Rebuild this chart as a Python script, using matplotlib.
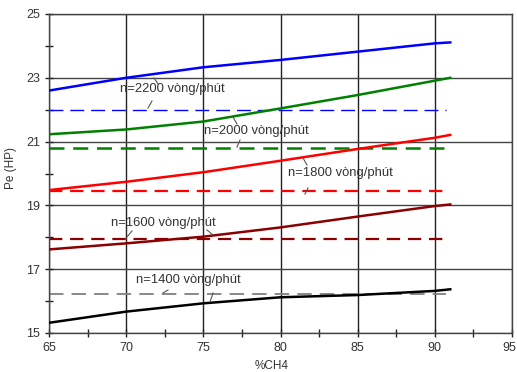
import matplotlib
matplotlib.use("Agg")
import matplotlib.pyplot as plt
import matplotlib.transforms as mtransforms
import numpy as np

plt.rcParams['font.family'] = ['Liberation Sans', 'DejaVu Sans']

x_ch4 = [65, 70, 75, 80, 85, 90, 91]
pe_2200 = [22.60, 23.00, 23.33, 23.56, 23.82, 24.08, 24.11]
pe_2000 = [21.23, 21.38, 21.63, 22.04, 22.46, 22.91, 23.00]
pe_1800 = [19.48, 19.74, 20.04, 20.40, 20.77, 21.12, 21.21]
pe_1600 = [17.62, 17.81, 18.02, 18.31, 18.65, 18.98, 19.03]
pe_1400 = [15.32, 15.67, 15.93, 16.12, 16.19, 16.32, 16.37]

ref_x = [65, 90.7]
ref_2200 = 22.0
ref_2000 = 20.8
ref_1800 = 19.44
ref_1600 = 17.95
ref_1400 = 16.22

labels = ["n=2200 vòng/phút", "n=2000 vòng/phút", "n=1800 vòng/phút",
          "n=1600 vòng/phút", "n=1400 vòng/phút"]

fig = plt.figure(figsize=(5.17, 3.72), dpi=100)
ax = fig.add_axes([49/517, 1-333/372, (512-49)/517, (333-14)/372])

ax.set_xlim(65, 95)
ax.set_ylim(15, 25)
ax.set_xticks([65, 70, 75, 80, 85, 90, 95])
ax.set_xticks([67.5, 72.5, 77.5, 82.5, 87.5, 92.5], minor=True)
ax.set_yticks([15, 17, 19, 21, 23, 25])
ax.set_yticks([16, 18, 20, 22, 24], minor=True)
ax.grid(True, which='major', axis='x', color='#222222', lw=1.0)
ax.grid(True, which='major', axis='y', color='#444444', lw=1.0)
ax.set_axisbelow(True)
ax.tick_params(which='both', direction='inout', length=6, width=1, colors='#222222',
               labelsize=9, labelcolor='#333333')
for s in ax.spines.values():
    s.set_color('#444444')
    s.set_linewidth(1.0)

solid = [(pe_2200, 'blue'), (pe_2000, 'green'), (pe_1800, 'red'),
         (pe_1600, '#8b0000'), (pe_1400, 'black')]
for ys, c in solid:
    ax.plot(x_ch4, ys, color=c, lw=1.8, zorder=3)

dashed = [(ref_2200, 'blue', 1.0, (10, 5)), (ref_2000, 'green', 1.8, (6, 3.5)),
          (ref_1800, 'red', 1.6, (6, 3.5)), (ref_1600, '#8b0000', 1.6, (6, 3.5)),
          (ref_1400, 'gray', 1.3, (8, 4.5))]
for yv, c, lw, dash in dashed:
    ax.plot(ref_x, [yv, yv], color=c, lw=lw, dashes=dash, zorder=2)

def px2d(px, py):
    return 65 + (px - 49) / (463/30), 25 - (py - 14) / (319/10)

texts = [
    (labels[0], 172, 89, [((154, 78), (158, 84)), ((148, 108), (152, 101))]),
    (labels[1], 256, 131, [((233, 117), (237, 124)), ((237, 147), (240, 140))]),
    (labels[2], 340, 173, [((303, 158), (307, 165)), ((308, 188), (305, 194))]),
    (labels[3], 163, 223, [((126, 238), (132, 231)), ((207, 230), (213, 235))]),
    (labels[4], 188, 280, [((163, 293), (168, 290)), ((210, 302), (213, 293))]),
]
for t, px, py, leaders in texts:
    xd, yd = px2d(px, py)
    ax.text(xd, yd, t, ha='center', va='center', fontsize=9.4, color='#333333', zorder=5)
    for (a, b) in leaders:
        x0, y0 = px2d(*a)
        x1, y1 = px2d(*b)
        ax.plot([x0, x1], [y0, y1], color='#555555', lw=0.8, zorder=5)

fig.canvas.draw()
last = ax.get_xticklabels()[-1]
last.set_transform(last.get_transform() + mtransforms.ScaledTranslation(-3/100, 0, fig.dpi_scale_trans))

fig.text(11/517, 1-168/372, "Pe (HP)", rotation=90, ha='center', va='center',
         fontsize=8.5, color='#333333')
fig.text(272/517, 1-366/372, "%CH4", ha='center', va='center', fontsize=8.5,
         color='#333333')

fig.savefig("out.png", dpi=100)
